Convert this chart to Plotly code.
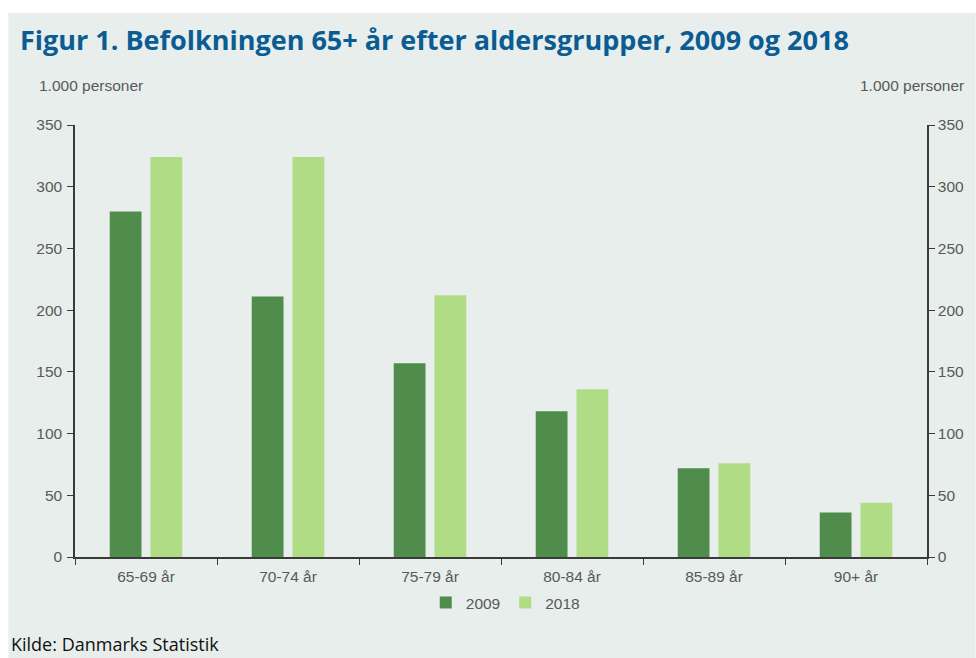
import plotly.graph_objects as go

categories = ["65-69 år", "70-74 år", "75-79 år", "80-84 år", "85-89 år", "90+ år"]
values_2009 = [280, 211, 157, 118, 72, 36]
values_2018 = [324, 324, 212, 136, 76, 44]
y_ticks = [0, 50, 100, 150, 200, 250, 300, 350]

W, H = 976, 658
L, R, T, B = 75, 932, 125, 557
pw, ph = R - L, B - T

def px(x):
    return (x - L) / pw

def py(y):
    return (B - y) / ph

bg = "#E7EEEC"
dark = "#508D4C"
light = "#B1DC86"
axis_col = "#3A3A3A"
sans = "Liberation Sans, Arial, sans-serif"
tick_font = dict(family=sans, size=15.5, color="#595959")

fig = go.Figure()
fig.add_trace(go.Bar(x=categories, y=values_2009, name="2009", marker=dict(color=dark, line=dict(width=0))))
fig.add_trace(go.Bar(x=categories, y=values_2018, name="2018", marker=dict(color=light, line=dict(width=0))))
fig.add_trace(go.Scatter(x=categories, y=values_2009, yaxis="y2", mode="lines",
                         line=dict(width=0), showlegend=False, hoverinfo="skip"))

fig.update_layout(
    width=W, height=H,
    margin=dict(l=L, r=W - R, t=T, b=H - B, pad=0),
    paper_bgcolor="white",
    plot_bgcolor=bg,
    barmode="group",
    bargap=0.426,
    bargroupgap=0.22,
    showlegend=True,
    legend=dict(orientation="h", x=0.505, xanchor="center", y=py(603), yanchor="middle",
                font=dict(family=sans, size=15.5, color="#595959"),
                bgcolor="rgba(0,0,0,0)", itemwidth=30, tracegroupgap=0),
    xaxis=dict(showline=True, linecolor=axis_col, linewidth=1.5, ticks="outside", ticklen=6,
               tickcolor=axis_col, tickson="boundaries", tickfont=tick_font, showgrid=False,
               zeroline=False, fixedrange=True, ticklabelstandoff=5),
    yaxis=dict(range=[0, 350], tickvals=y_ticks, showline=True, linecolor=axis_col, linewidth=1.5,
               ticks="outside", ticklen=6, tickcolor=axis_col, tickfont=tick_font, showgrid=False,
               zeroline=False, ticklabelstandoff=2),
    yaxis2=dict(range=[0, 350], tickvals=y_ticks, overlaying="y", side="right", showline=True,
                linecolor=axis_col, linewidth=1.5, ticks="outside", ticklen=6, tickcolor=axis_col,
                tickfont=tick_font, showgrid=False, zeroline=False),
    shapes=[
        dict(type="rect", xref="paper", yref="paper", x0=px(8), x1=px(W + 5), y0=py(H + 5), y1=py(13),
             fillcolor=bg, line=dict(width=0), layer="below"),
    ],
    annotations=[
        dict(text="<b>Figur 1. Befolkningen 65+ år efter aldersgrupper, 2009 og 2018</b>",
             xref="paper", yref="paper", x=px(18), y=py(40), xanchor="left", yanchor="middle",
             showarrow=False, font=dict(family="Open Sans, sans-serif", size=27, color="#0B5C92")),
        dict(text="1.000 personer", xref="paper", yref="paper", x=px(37), y=py(85),
             xanchor="left", yanchor="middle", showarrow=False, font=tick_font),
        dict(text="1.000 personer", xref="paper", yref="paper", x=px(971), y=py(85),
             xanchor="right", yanchor="middle", showarrow=False, font=tick_font),
        dict(text="Kilde: Danmarks Statistik", xref="paper", yref="paper", x=px(9), y=py(644),
             xanchor="left", yanchor="middle", showarrow=False,
             font=dict(family="Open Sans, sans-serif", size=18, color="#111111")),
    ],
)

fig.write_html("out.html", config={"displayModeBar": False},
               post_script="document.body.style.margin='0px';document.body.style.overflow='hidden';")
